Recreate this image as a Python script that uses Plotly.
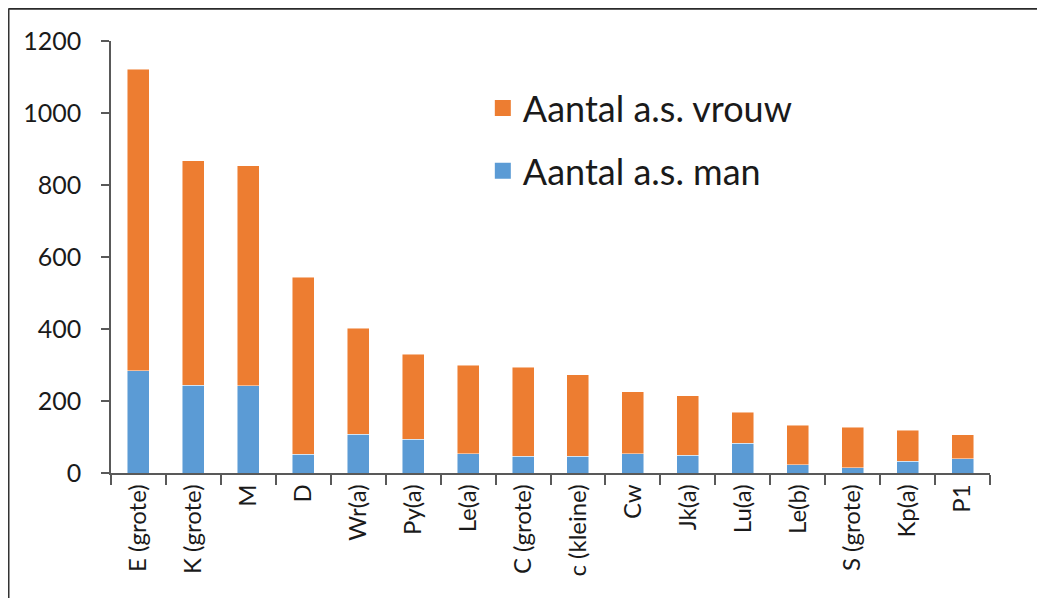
import plotly.graph_objects as go

categories = ["E (grote)", "K (grote)", "M", "D", "Wr(a)", "Py(a)", "Le(a)", "C (grote)",
              "c (kleine)", "Cw", "Jk(a)", "Lu(a)", "Le(b)", "S (grote)", "Kp(a)", "P1"]
man = [284, 244, 242, 52, 108, 94, 54, 47, 47, 54, 50, 83, 23, 14, 33, 40]
vrouw = [838, 623, 612, 492, 294, 236, 246, 247, 226, 172, 164, 86, 110, 113, 86, 66]
y_ticks = [0, 200, 400, 600, 800, 1000, 1200]

BLUE = "#5B9BD5"
ORANGE = "#ED7D31"
FONT = "Lato"

fig = go.Figure()
fig.add_trace(go.Bar(x=categories, y=man, name="Aantal a.s. man", marker_color=BLUE,
                     marker_line=dict(color="rgba(255,255,255,0.6)", width=0.8), showlegend=False))
fig.add_trace(go.Bar(x=categories, y=vrouw, name="Aantal a.s. vrouw", marker_color=ORANGE,
                     marker_line=dict(color="rgba(255,255,255,0.6)", width=0.8), showlegend=False))
# legend entries with larger square symbols
fig.add_trace(go.Scatter(x=[None], y=[None], mode="markers", name="Aantal a.s. vrouw",
                         marker=dict(symbol="square", size=16, color=ORANGE), legendgroup="v"))
fig.add_trace(go.Scatter(x=[None], y=[None], mode="markers", name="Aantal a.s. man",
                         marker=dict(symbol="square", size=16, color=BLUE), legendgroup="m"))

fig.update_layout(
    barmode="stack",
    bargap=0.6,
    width=1045, height=598,
    margin=dict(l=103, r=63, t=33, b=133),
    paper_bgcolor="white", plot_bgcolor="white",
    font=dict(family=FONT, color="#1a1a1a"),
    legend=dict(x=0.423, y=0.914, xanchor="left", yanchor="top",
                font=dict(size=36, family=FONT, color="#1a1a1a"),
                traceorder="grouped", tracegroupgap=13, bgcolor="rgba(0,0,0,0)"),
    xaxis=dict(type="category", tickangle=-90, tickfont=dict(size=24, family=FONT, color="#1a1a1a"),
               showline=True, linecolor="#595959", linewidth=1.5,
               ticks="outside", ticklen=10, tickcolor="#595959", tickwidth=1.5,
               tickson="boundaries", showgrid=False, fixedrange=True),
    yaxis=dict(range=[0, 1200], tickvals=y_ticks, tickfont=dict(size=25, family=FONT, color="#1a1a1a"),
               showline=True, linecolor="#595959", linewidth=1.5,
               ticks="outside", ticklen=8, tickcolor="#595959", tickwidth=1.5,
               ticklabelstandoff=15, showgrid=False, zeroline=False, fixedrange=True),
)

# partial frame (top and left edges) around the picture
fig.add_shape(type="line", xref="paper", yref="paper", x0=-0.1166, x1=1.08, y0=1.0752, y1=1.0752,
              line=dict(color="#2a2a2a", width=2.5))
fig.add_shape(type="line", xref="paper", yref="paper", x0=-0.1166, x1=-0.1166, y0=1.0752, y1=-0.31,
              line=dict(color="#333333", width=2))

fig.write_html("out.html")
